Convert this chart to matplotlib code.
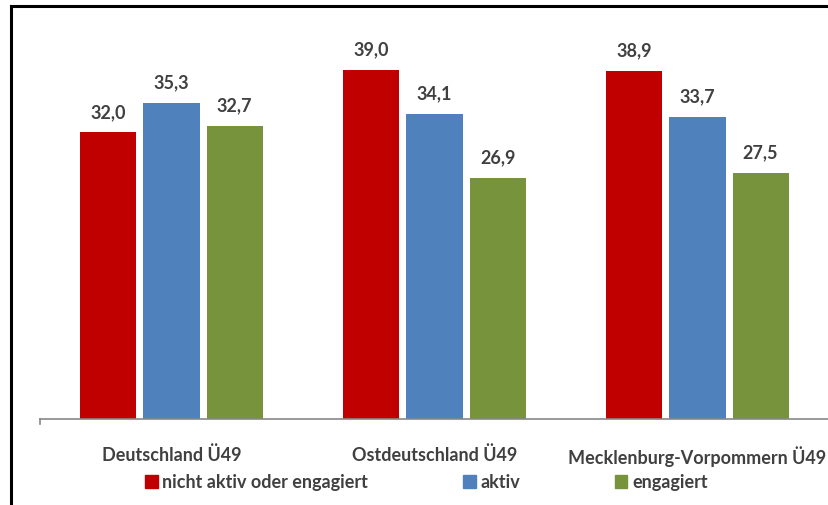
import numpy as np
import matplotlib.pyplot as plt
from matplotlib.lines import Line2D
from matplotlib.patches import Patch

regionen = ['Deutschland Ü49', 'Ostdeutschland Ü49', 'Mecklenburg-Vorpommern Ü49']
serien = ['nicht aktiv oder engagiert', 'aktiv', 'engagiert']
nicht_aktiv = [32.0, 39.0, 38.9]
aktiv = [35.3, 34.1, 33.7]
engagiert = [32.7, 26.9, 27.5]

farben = ['#C00000', '#4F81BD', '#77933C']
textfarbe = '#404040'

plt.rcParams['font.family'] = ['Lato', 'DejaVu Sans']
plt.rcParams['font.weight'] = 'bold'

fig = plt.figure(figsize=(8.29, 5.06), dpi=100)
ax = fig.add_axes([40 / 829, 1 - 420 / 506, 1 - 40 / 829, (420 - 17) / 506])

x = np.arange(len(regionen))
breite = 0.213
abstand = 0.24
for i, (werte, farbe) in enumerate(zip([nicht_aktiv, aktiv, engagiert], farben)):
    bars = ax.bar(x + (i - 1) * abstand, werte, breite, color=farbe)
    for b, v in zip(bars, werte):
        ax.annotate(f'{v:.1f}'.replace('.', ','),
                    (b.get_x() + b.get_width() / 2, v),
                    xytext=(0, 9), textcoords='offset points',
                    ha='center', va='bottom', fontsize=13,
                    fontweight='bold', color=textfarbe)

ax.set_xlim(-0.5, 2.5)
ax.set_ylim(0, 45)
ax.set_xticks(x)
ax.set_xticklabels(regionen, fontsize=13, fontweight='bold', color=textfarbe)
ax.tick_params(axis='x', length=0, pad=18.5)
ax.set_yticks([])
for s in ['top', 'right', 'left']:
    ax.spines[s].set_visible(False)
ax.spines['bottom'].set_color('#878787')
ax.spines['bottom'].set_linewidth(1.2)
# kleiner Strich am Anfang der Achse
ax.plot([-0.5, -0.5], [0, -0.6], color='#878787', lw=1.2, clip_on=False)

handles = [Patch(color=f) for f in farben]
fig.legend(handles, serien, loc='center left', bbox_to_anchor=(129 / 829, 1 - 483 / 506),
           ncol=3, frameon=False, handlelength=0.7, handleheight=0.7,
           handletextpad=0.25, columnspacing=5.25, labelcolor=textfarbe,
           prop={'weight': 'bold', 'size': 13})

# Rahmen links und oben
fig.add_artist(Line2D([11 / 829, 11 / 829], [0, 1 - 7 / 506], color='black', lw=2.2,
                      transform=fig.transFigure, solid_capstyle='projecting'))
fig.add_artist(Line2D([11 / 829, 1], [1 - 7 / 506, 1 - 7 / 506], color='black', lw=2.2,
                      transform=fig.transFigure, solid_capstyle='projecting'))

fig.savefig('out.png', dpi=100)
